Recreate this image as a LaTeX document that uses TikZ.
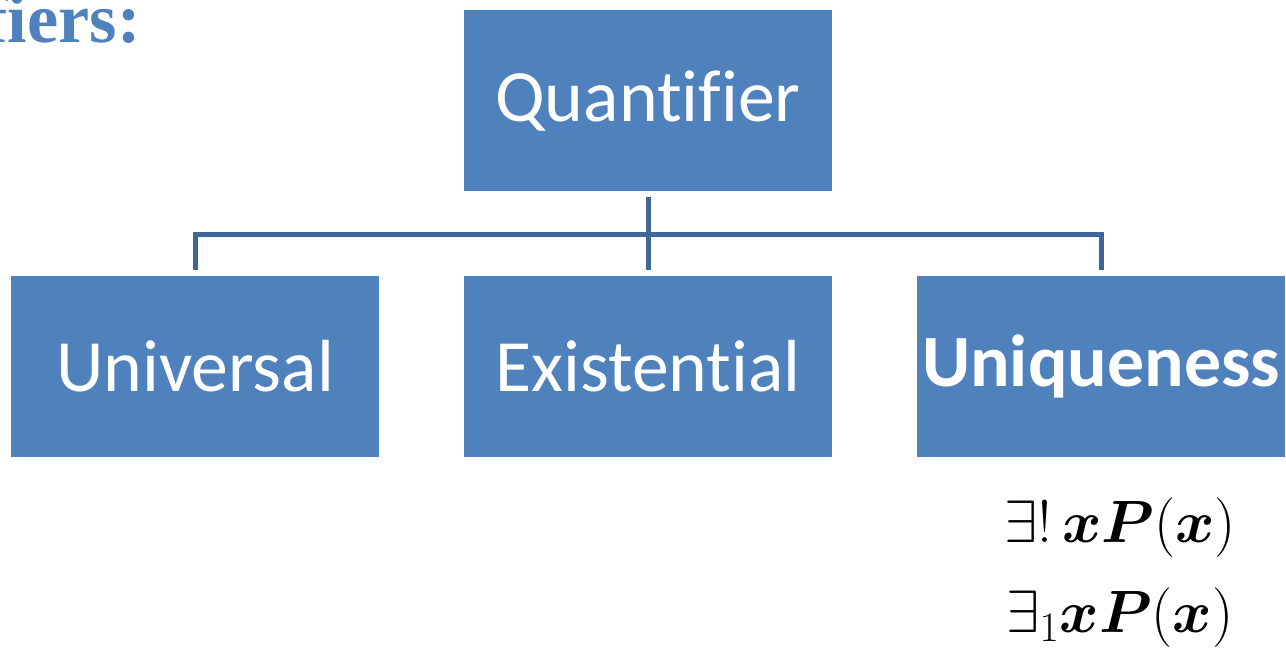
\RequirePackage{fix-cm}
\documentclass[tikz,border=0pt]{standalone}
\usepackage[no-math]{fontspec}
\usepackage{amsmath,bm}
\setmainfont[Ligatures=NoCommon]{Carlito}
\newfontfamily\headfont{Liberation Serif}
\definecolor{boxblue}{HTML}{4F81BD}
\definecolor{linkblue}{HTML}{3F6699}
\begin{document}
\begin{tikzpicture}[x=0.02cm, y=-0.02cm,
	box/.style={fill=boxblue, text=white, minimum width=7.36cm, minimum height=3.62cm,
		inner sep=0pt, font=\fontsize{42}{48}\selectfont},
	link/.style={draw=linkblue, line width=0.1cm, shorten <=0.12cm, shorten >=0.12cm}]
	\useasboundingbox (0,0) rectangle (1286,650);
	\clip (0,0) rectangle (1286,650);

	% heading
	\node[anchor=base east, inner sep=0pt, text=boxblue, font=\headfont\bfseries\fontsize{40}{48}\selectfont]
		(head) at (141,42) {Quantifiers:};

	% boxes
	\node[box] (q) at (648,100.5) {Quantifier};
	\node[box] (u) at (195,366.5) {Universal};
	\node[box] (e) at (648,366.5) {Existential};
	\node[box, font=\bfseries\fontsize{42}{48}\selectfont] (n) at (1101,366.5) {Uniqueness};

	% connectors
	\coordinate (bus) at (648,234);
	\draw[link] (q.south) -- (e.north);
	\draw[link] (u.north) |- (bus) -| (n.north);

	% notation
	\node[font=\fontsize{34}{40}\selectfont] (one) at (1120,528) {$\exists!\,\bm{xP}(\bm{x})$};
	\node[font=\fontsize{34}{40}\selectfont] (two) at (1120,618) {$\exists_{1}\bm{xP}(\bm{x})$};
\end{tikzpicture}
\end{document}
